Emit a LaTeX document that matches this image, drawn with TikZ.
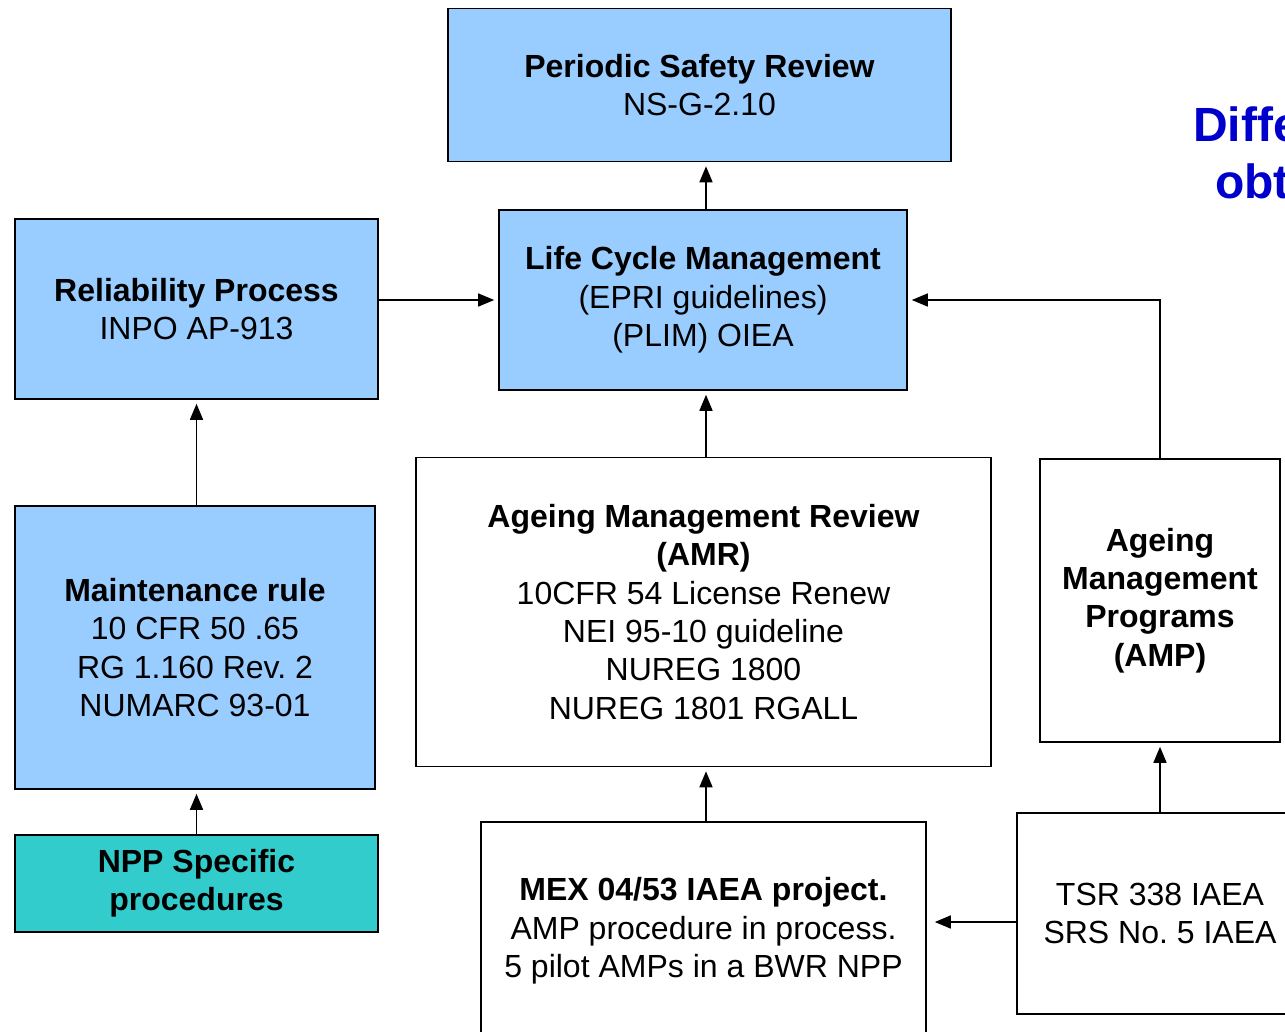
\documentclass[tikz,border=0pt]{standalone}
\usepackage{fontspec}
\setmainfont{Liberation Sans}
\usetikzlibrary{arrows.meta}
\definecolor{lblue}{HTML}{99CCFF}
\definecolor{teal2}{HTML}{33CCCC}
\definecolor{tblue}{HTML}{0000CC}
\frenchspacing
\begin{document}
\begin{tikzpicture}[x=1pt,y=-1pt,
  box/.style={draw=black, line width=1.6pt, align=center, inner sep=0pt,
    font=\fontsize{32}{38.3}\selectfont\frenchspacing},
  bluebox/.style={box, fill=lblue},
  whitebox/.style={box, fill=white},
  tealbox/.style={box, fill=teal2},
  conn/.style={line width=1.6pt, -{Triangle[length=16pt,width=13pt]}, shorten >=4pt}]
\useasboundingbox (0,0) rectangle (1285,1031);
\clip (0,0) rectangle (1285,1031);
\fill[white] (0,0) rectangle (1285,1031);

\node[bluebox, minimum width=503pt, minimum height=153pt] (psr) at (699.5,85)
  {\textbf{Periodic Safety Review}\\NS-G-2.10};
\node[bluebox, minimum width=408pt, minimum height=180pt] (lcm) at (703,300)
  {\textbf{Life Cycle Management}\\(EPRI guidelines)\\(PLIM) OIEA};
\node[bluebox, minimum width=363pt, minimum height=180pt] (rel) at (196.5,309)
  {\textbf{Reliability Process}\\INPO AP-913};
\node[bluebox, minimum width=360pt, minimum height=283pt] (mnt) at (195,647.5)
  {\textbf{Maintenance rule}\\10 CFR 50 .65\\RG 1.160 Rev. 2\\NUMARC 93-01};
\node[tealbox, minimum width=363pt, minimum height=97pt] (npp) at (196.5,883.5)
  {\textbf{NPP Specific}\\\textbf{procedures}};
\node[whitebox, minimum width=575pt, minimum height=309pt] (amr) at (703.5,612)
  {\textbf{Ageing Management Review}\\\textbf{(AMR)}\\10CFR 54 License Renew\\NEI 95-10 guideline\\NUREG 1800\\NUREG 1801 RGALL};
\node[whitebox, minimum width=240pt, minimum height=283pt] (amp) at (1160,600.5)
  {\textbf{Ageing}\\\textbf{Management}\\\textbf{Programs}\\\textbf{(AMP)}};
\node[whitebox, minimum width=445pt, minimum height=218pt] (mex) at (703.5,931)
  {\textbf{MEX 04/53 IAEA project.}\\AMP procedure in process.\\5 pilot AMPs in a BWR NPP};
\node[whitebox, minimum width=286pt, minimum height=201pt] (tsr) at (1160,913.5)
  {TSR 338 IAEA\\SRS No. 5 IAEA};

\node[anchor=base west, text=tblue, inner sep=0pt, font=\fontsize{48}{58}\selectfont\bfseries] (t1) at (1193,141) {Diffe};
\node[anchor=base west, text=tblue, inner sep=0pt, font=\fontsize{48}{58}\selectfont\bfseries] (t2) at (1215,198) {obt};

\coordinate (c1) at (706,0);
\draw[conn] (lcm.north -| c1) -- (psr.south -| c1);
\draw[conn] (rel.east |- lcm.west) -- (lcm.west);
\draw[conn] (mnt.north -| rel.south) -- (rel.south);
\draw[conn] (npp.north) -- (npp.north |- mnt.south);
\draw[conn] (amr.north -| c1) -- (lcm.south -| c1);
\draw[conn] (amp.north) |- (lcm.east);
\draw[conn] (mex.north -| c1) -- (amr.south -| c1);
\draw[conn] (tsr.north) -- (tsr.north |- amp.south);
\draw[conn, shorten >=8pt] (tsr.west |- 0,922) -- (mex.east |- 0,922);
\end{tikzpicture}
\end{document}
